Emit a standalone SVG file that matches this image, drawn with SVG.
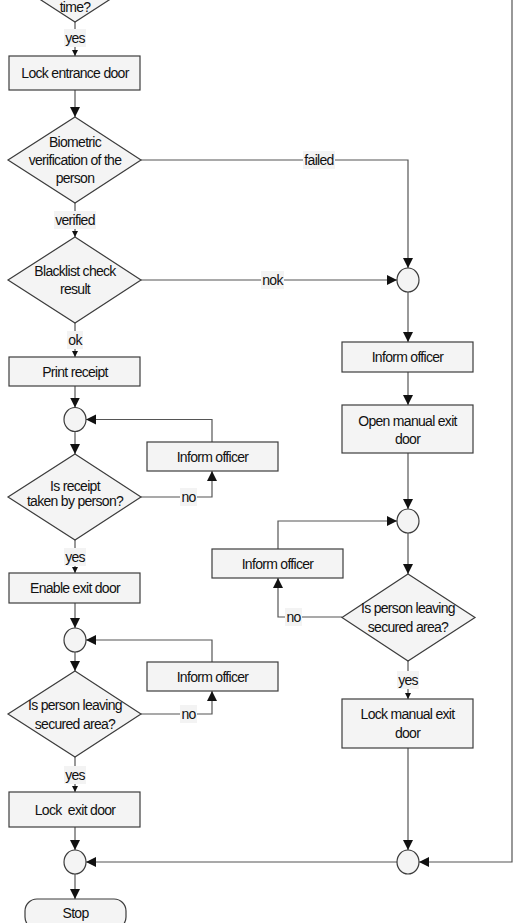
<svg xmlns="http://www.w3.org/2000/svg" width="518" height="923" viewBox="0 0 518 923">
<defs>
<style>
text{font-family:"Liberation Sans",Arial,sans-serif;font-size:14px;letter-spacing:-0.7px;fill:#111;text-anchor:middle}
.box{fill:#f4f4f4;stroke:#3c3c3c;stroke-width:1.2}
.dia{fill:#f4f4f4;stroke:#3c3c3c;stroke-width:1.2}
.jn{fill:#f4f4f4;stroke:#3c3c3c;stroke-width:1.2}
.ln{fill:none;stroke:#555;stroke-width:1.2}
.big{marker-end:url(#ah)}
.sm{marker-end:url(#as)}
.lb{fill:#f3f3f3;stroke:none}
</style>
<marker id="ah" markerUnits="userSpaceOnUse" markerWidth="12" markerHeight="12" refX="10" refY="5" orient="auto"><path d="M0,0 L10,5 L0,10 Z" fill="#111"/></marker>
<marker id="as" markerUnits="userSpaceOnUse" markerWidth="8" markerHeight="8" refX="6" refY="3" orient="auto"><path d="M0,0 L6,3 L0,6 Z" fill="#111"/></marker>
</defs>
<g id="connectors">
<path class="ln sm" d="M75,22 V56"/>
<path class="ln big" d="M75,90 V117"/>
<path class="ln big" d="M141,160 H408 V268"/>
<path class="ln sm" d="M75,203 V237"/>
<path class="ln big" d="M141,280 H397"/>
<path class="ln sm" d="M75,323 V357"/>
<path class="ln big" d="M75,386 V407.5"/>
<path class="ln big" d="M75,431.5 V454"/>
<path class="ln big" d="M141,497 H212 V471"/>
<path class="ln big" d="M212,442 V419.5 H86"/>
<path class="ln sm" d="M75,540 V573"/>
<path class="ln big" d="M75,603 V628"/>
<path class="ln big" d="M75,652 V671"/>
<path class="ln big" d="M141,714 H212 V691"/>
<path class="ln big" d="M212,662 V640 H86"/>
<path class="ln sm" d="M75,757 V792"/>
<path class="ln big" d="M75,827 V850"/>
<path class="ln big" d="M75,874 V899"/>
<path class="ln big" d="M408,292 V342"/>
<path class="ln big" d="M408,372 V405"/>
<path class="ln big" d="M408,453 V509"/>
<path class="ln big" d="M408,533 V574"/>
<path class="ln big" d="M342,617 H278 V578"/>
<path class="ln big" d="M278,549 V521 H397"/>
<path class="ln sm" d="M408,661 V699"/>
<path class="ln big" d="M408,748 V850"/>
<path class="ln big" d="M397,862 H86"/>
<path class="ln big" d="M512,-20 V862 H419"/>
<g id="labels">
<rect class="lb" x="64" y="29" width="22" height="18"/><text x="75" y="43">yes</text>
<rect class="lb" x="54" y="211" width="42" height="18"/><text x="75" y="225">verified</text>
<rect class="lb" x="303" y="151" width="32" height="18"/><text x="319" y="165">failed</text>
<rect class="lb" x="261" y="271" width="23" height="18"/><text x="272.5" y="285">nok</text>
<rect class="lb" x="67" y="331" width="16" height="18"/><text x="75" y="345">ok</text>
<rect class="lb" x="180" y="488" width="17" height="18"/><text x="188.5" y="502">no</text>
<rect class="lb" x="64" y="548" width="22" height="18"/><text x="75" y="562">yes</text>
<rect class="lb" x="180" y="705" width="17" height="18"/><text x="188.5" y="719">no</text>
<rect class="lb" x="64" y="766" width="22" height="18"/><text x="75" y="780">yes</text>
<rect class="lb" x="285" y="608" width="17" height="18"/><text x="293.5" y="622">no</text>
<rect class="lb" x="397" y="671" width="22" height="18"/><text x="408" y="685">yes</text>
</g>
</g>
<g id="n-time"><polygon class="dia" points="75,-64 141.5,-21 75,22 8.5,-21"/><text x="75" y="12">time?</text></g>
<g id="n-lock-entrance"><rect class="box" x="9" y="56" width="131" height="34"/><text x="75" y="78">Lock entrance door</text></g>
<g id="n-biometric"><polygon class="dia" points="75,117 141,160 75,203 8,160"/><text x="75" y="147">Biometric</text><text x="75" y="165">verification of the</text><text x="75" y="183">person</text></g>
<g id="n-blacklist"><polygon class="dia" points="75,237 141,280 75,323 8,280"/><text x="75" y="276">Blacklist check</text><text x="75" y="294">result</text></g>
<g id="n-print"><rect class="box" x="9" y="357" width="131" height="29"/><text x="75" y="376.5">Print receipt</text></g>
<g id="n-j1"><ellipse class="jn" cx="75" cy="419.5" rx="11" ry="12"/></g>
<g id="n-receipt"><polygon class="dia" points="75,454 141,497 75,540 8,497"/><text x="75" y="491">Is receipt</text><text x="75" y="506">taken by person?</text></g>
<g id="n-inform-a"><rect class="box" x="147" y="442" width="131" height="29"/><text x="212.5" y="461.5">Inform officer</text></g>
<g id="n-enable"><rect class="box" x="9" y="573" width="131" height="30"/><text x="75" y="593">Enable exit door</text></g>
<g id="n-j2"><ellipse class="jn" cx="75" cy="640" rx="11" ry="12"/></g>
<g id="n-leaving-l"><polygon class="dia" points="75,671 141,714 75,757 8,714"/><text x="75" y="710">Is person leaving</text><text x="75" y="729">secured area?</text></g>
<g id="n-inform-b"><rect class="box" x="147" y="662" width="131" height="29"/><text x="212.5" y="681.5">Inform officer</text></g>
<g id="n-lock-exit"><rect class="box" x="9" y="792" width="131" height="35"/><text x="75" y="814.5" xml:space="preserve">Lock  exit door</text></g>
<g id="n-j3"><ellipse class="jn" cx="75" cy="862" rx="11" ry="12"/></g>
<g id="n-stop"><rect class="box" x="25" y="899" width="101" height="30" rx="12"/><text x="75.5" y="918">Stop</text></g>
<g id="n-r1"><ellipse class="jn" cx="408" cy="280" rx="11" ry="12"/></g>
<g id="n-inform-r"><rect class="box" x="342" y="342" width="131" height="30"/><text x="407.5" y="362">Inform officer</text></g>
<g id="n-open-manual"><rect class="box" x="342" y="405" width="131" height="48"/><text x="407.5" y="426">Open manual exit</text><text x="407.5" y="444">door</text></g>
<g id="n-r2"><ellipse class="jn" cx="408" cy="521" rx="11" ry="12"/></g>
<g id="n-leaving-r"><polygon class="dia" points="408,574 475,617.5 408,661 342,617.5"/><text x="408" y="613">Is person leaving</text><text x="408" y="632">secured area?</text></g>
<g id="n-inform-c"><rect class="box" x="212" y="549" width="131" height="29"/><text x="277.5" y="568.5">Inform officer</text></g>
<g id="n-lock-manual"><rect class="box" x="342" y="699" width="131" height="49"/><text x="407.5" y="719">Lock manual exit</text><text x="407.5" y="738">door</text></g>
<g id="n-r3"><ellipse class="jn" cx="408" cy="862" rx="11" ry="12"/></g>
</svg>
